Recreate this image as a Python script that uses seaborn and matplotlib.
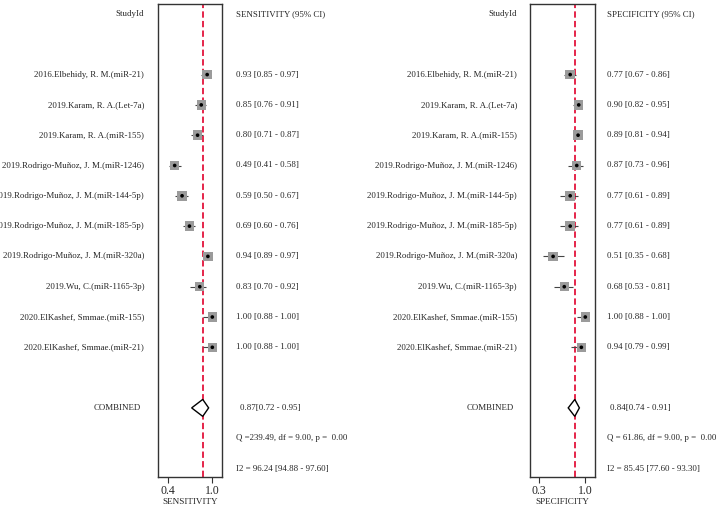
import matplotlib
matplotlib.use("Agg")
import matplotlib.pyplot as plt
import matplotlib.transforms as mtransforms
from matplotlib.patches import Polygon
import seaborn as sns
import pandas as pd

studies = [
    "2016.Elbehidy, R. M.(miR-21)",
    "2019.Karam, R. A.(Let-7a)",
    "2019.Karam, R. A.(miR-155)",
    "2019.Rodrigo-Muñoz, J. M.(miR-1246)",
    "2019.Rodrigo-Muñoz, J. M.(miR-144-5p)",
    "2019.Rodrigo-Muñoz, J. M.(miR-185-5p)",
    "2019.Rodrigo-Muñoz, J. M.(miR-320a)",
    "2019.Wu, C.(miR-1165-3p)",
    "2020.ElKashef, Smmae.(miR-155)",
    "2020.ElKashef, Smmae.(miR-21)",
]
sens = [0.93, 0.85, 0.80, 0.49, 0.59, 0.69, 0.94, 0.83, 1.00, 1.00]
sens_lo = [0.85, 0.76, 0.71, 0.41, 0.50, 0.60, 0.89, 0.70, 0.88, 0.88]
sens_hi = [0.97, 0.91, 0.87, 0.58, 0.67, 0.76, 0.97, 0.92, 1.00, 1.00]
spec = [0.77, 0.90, 0.89, 0.87, 0.77, 0.77, 0.51, 0.68, 1.00, 0.94]
spec_lo = [0.67, 0.82, 0.81, 0.73, 0.61, 0.61, 0.35, 0.53, 0.88, 0.79]
spec_hi = [0.86, 0.95, 0.94, 0.96, 0.89, 0.89, 0.68, 0.81, 1.00, 0.99]
sens_comb = [0.87, 0.72, 0.95]
spec_comb = [0.84, 0.74, 0.91]
sens_q = "Q =239.49, df = 9.00, p =  0.00"
spec_q = "Q = 61.86, df = 9.00, p =  0.00"
sens_i2 = "I2 = 96.24 [94.88 - 97.60]"
spec_i2 = "I2 = 85.45 [77.60 - 93.30]"
sens_ticks = [0.4, 1.0]
spec_ticks = [0.3, 1.0]

sns.set_theme(style="white")
plt.rcParams["font.family"] = ["Liberation Serif", "DejaVu Serif"]

W, H = 720, 509
fig = plt.figure(figsize=(7.2, 5.09), dpi=100)

ytop = (4 - 14) / 30.3
ybot = (477 - 14) / 30.3

def panel(ax_left_px, ax_right_px, lab_x, txt_x, comb_x, vals, lo, hi, comb,
          qtxt, i2txt, header, xlabel, xlim, ticks):
    ax = fig.add_axes([ax_left_px / W, 1 - 477 / H,
                       (ax_right_px - ax_left_px) / W, (477 - 4) / H])
    df = pd.DataFrame({"est": vals, "lo": lo, "hi": hi,
                       "row": [i + 2 for i in range(len(vals))],
                       "study": studies})
    ax.hlines(df["row"], df["lo"], df["hi"], color="#444444", lw=0.8, zorder=2)
    sns.scatterplot(data=df, x="est", y="row", marker="s", s=46,
                    color="#9b9b9b", edgecolor="none", ax=ax, zorder=3)
    sns.scatterplot(data=df, x="est", y="row", marker="o", s=7,
                    color="black", edgecolor="none", ax=ax, zorder=4)
    ax.axvline(comb[0], color="#e3143c", lw=1.3, ls=(0, (3.5, 1.8)), zorder=1)
    rc = 13
    h = 0.28
    ax.add_patch(Polygon([(comb[1], rc), (comb[0], rc - h), (comb[2], rc),
                          (comb[0], rc + h)], closed=True, facecolor="white",
                         edgecolor="black", lw=1.0, zorder=5))
    ax.set_xlim(*xlim)
    ax.set_ylim(ybot, ytop)
    ax.set_yticks([])
    ax.set_xticks(ticks)
    ax.set_xticklabels([f"{t:.1f}" for t in ticks], fontsize=8.5)
    ax.tick_params(axis="x", bottom=True, direction="out", length=4,
                   width=0.8, color="#333333", pad=1.5)
    ax.set_xlabel(xlabel, fontsize=6.6, labelpad=1.0)
    ax.set_ylabel("")
    for s in ax.spines.values():
        s.set_color("#333333")
        s.set_linewidth(1.0)
    tr = mtransforms.blended_transform_factory(fig.transFigure, ax.transData)
    fs = 6.4
    ax.text(lab_x / W, 0, "StudyId", transform=tr, ha="right", va="center",
            fontsize=fs, clip_on=False)
    ax.text(txt_x / W, 0, header, transform=tr, ha="left", va="center",
            fontsize=fs, clip_on=False)
    for i, r in df.iterrows():
        ax.text(lab_x / W, r["row"], r["study"], transform=tr, ha="right",
                va="center", fontsize=fs, clip_on=False)
        ax.text(txt_x / W, r["row"],
                f"{r['est']:.2f} [{r['lo']:.2f} - {r['hi']:.2f}]",
                transform=tr, ha="left", va="center", fontsize=fs, clip_on=False)
    ax.text((lab_x - 3) / W, rc, "COMBINED", transform=tr, ha="right",
            va="center", fontsize=fs, clip_on=False)
    ax.text(comb_x / W, rc, f"{comb[0]:.2f}[{comb[1]:.2f} - {comb[2]:.2f}]",
            transform=tr, ha="left", va="center", fontsize=fs, clip_on=False)
    ax.text(txt_x / W, 14, qtxt, transform=tr, ha="left", va="center",
            fontsize=fs, clip_on=False)
    ax.text(txt_x / W, 15, i2txt, transform=tr, ha="left", va="center",
            fontsize=fs, clip_on=False)
    return ax

panel(158, 221.7, 144, 236, 240, sens, sens_lo, sens_hi, sens_comb,
      sens_q, sens_i2, "SENSITIVITY (95% CI)", "SENSITIVITY", (0.264, 1.127),
      sens_ticks)
panel(529.7, 594.7, 517, 607, 610, spec, spec_lo, spec_hi, spec_comb,
      spec_q, spec_i2, "SPECIFICITY (95% CI)", "SPECIFICITY", (0.154, 1.143),
      spec_ticks)

fig.savefig("out.png", dpi=100, facecolor="white")
